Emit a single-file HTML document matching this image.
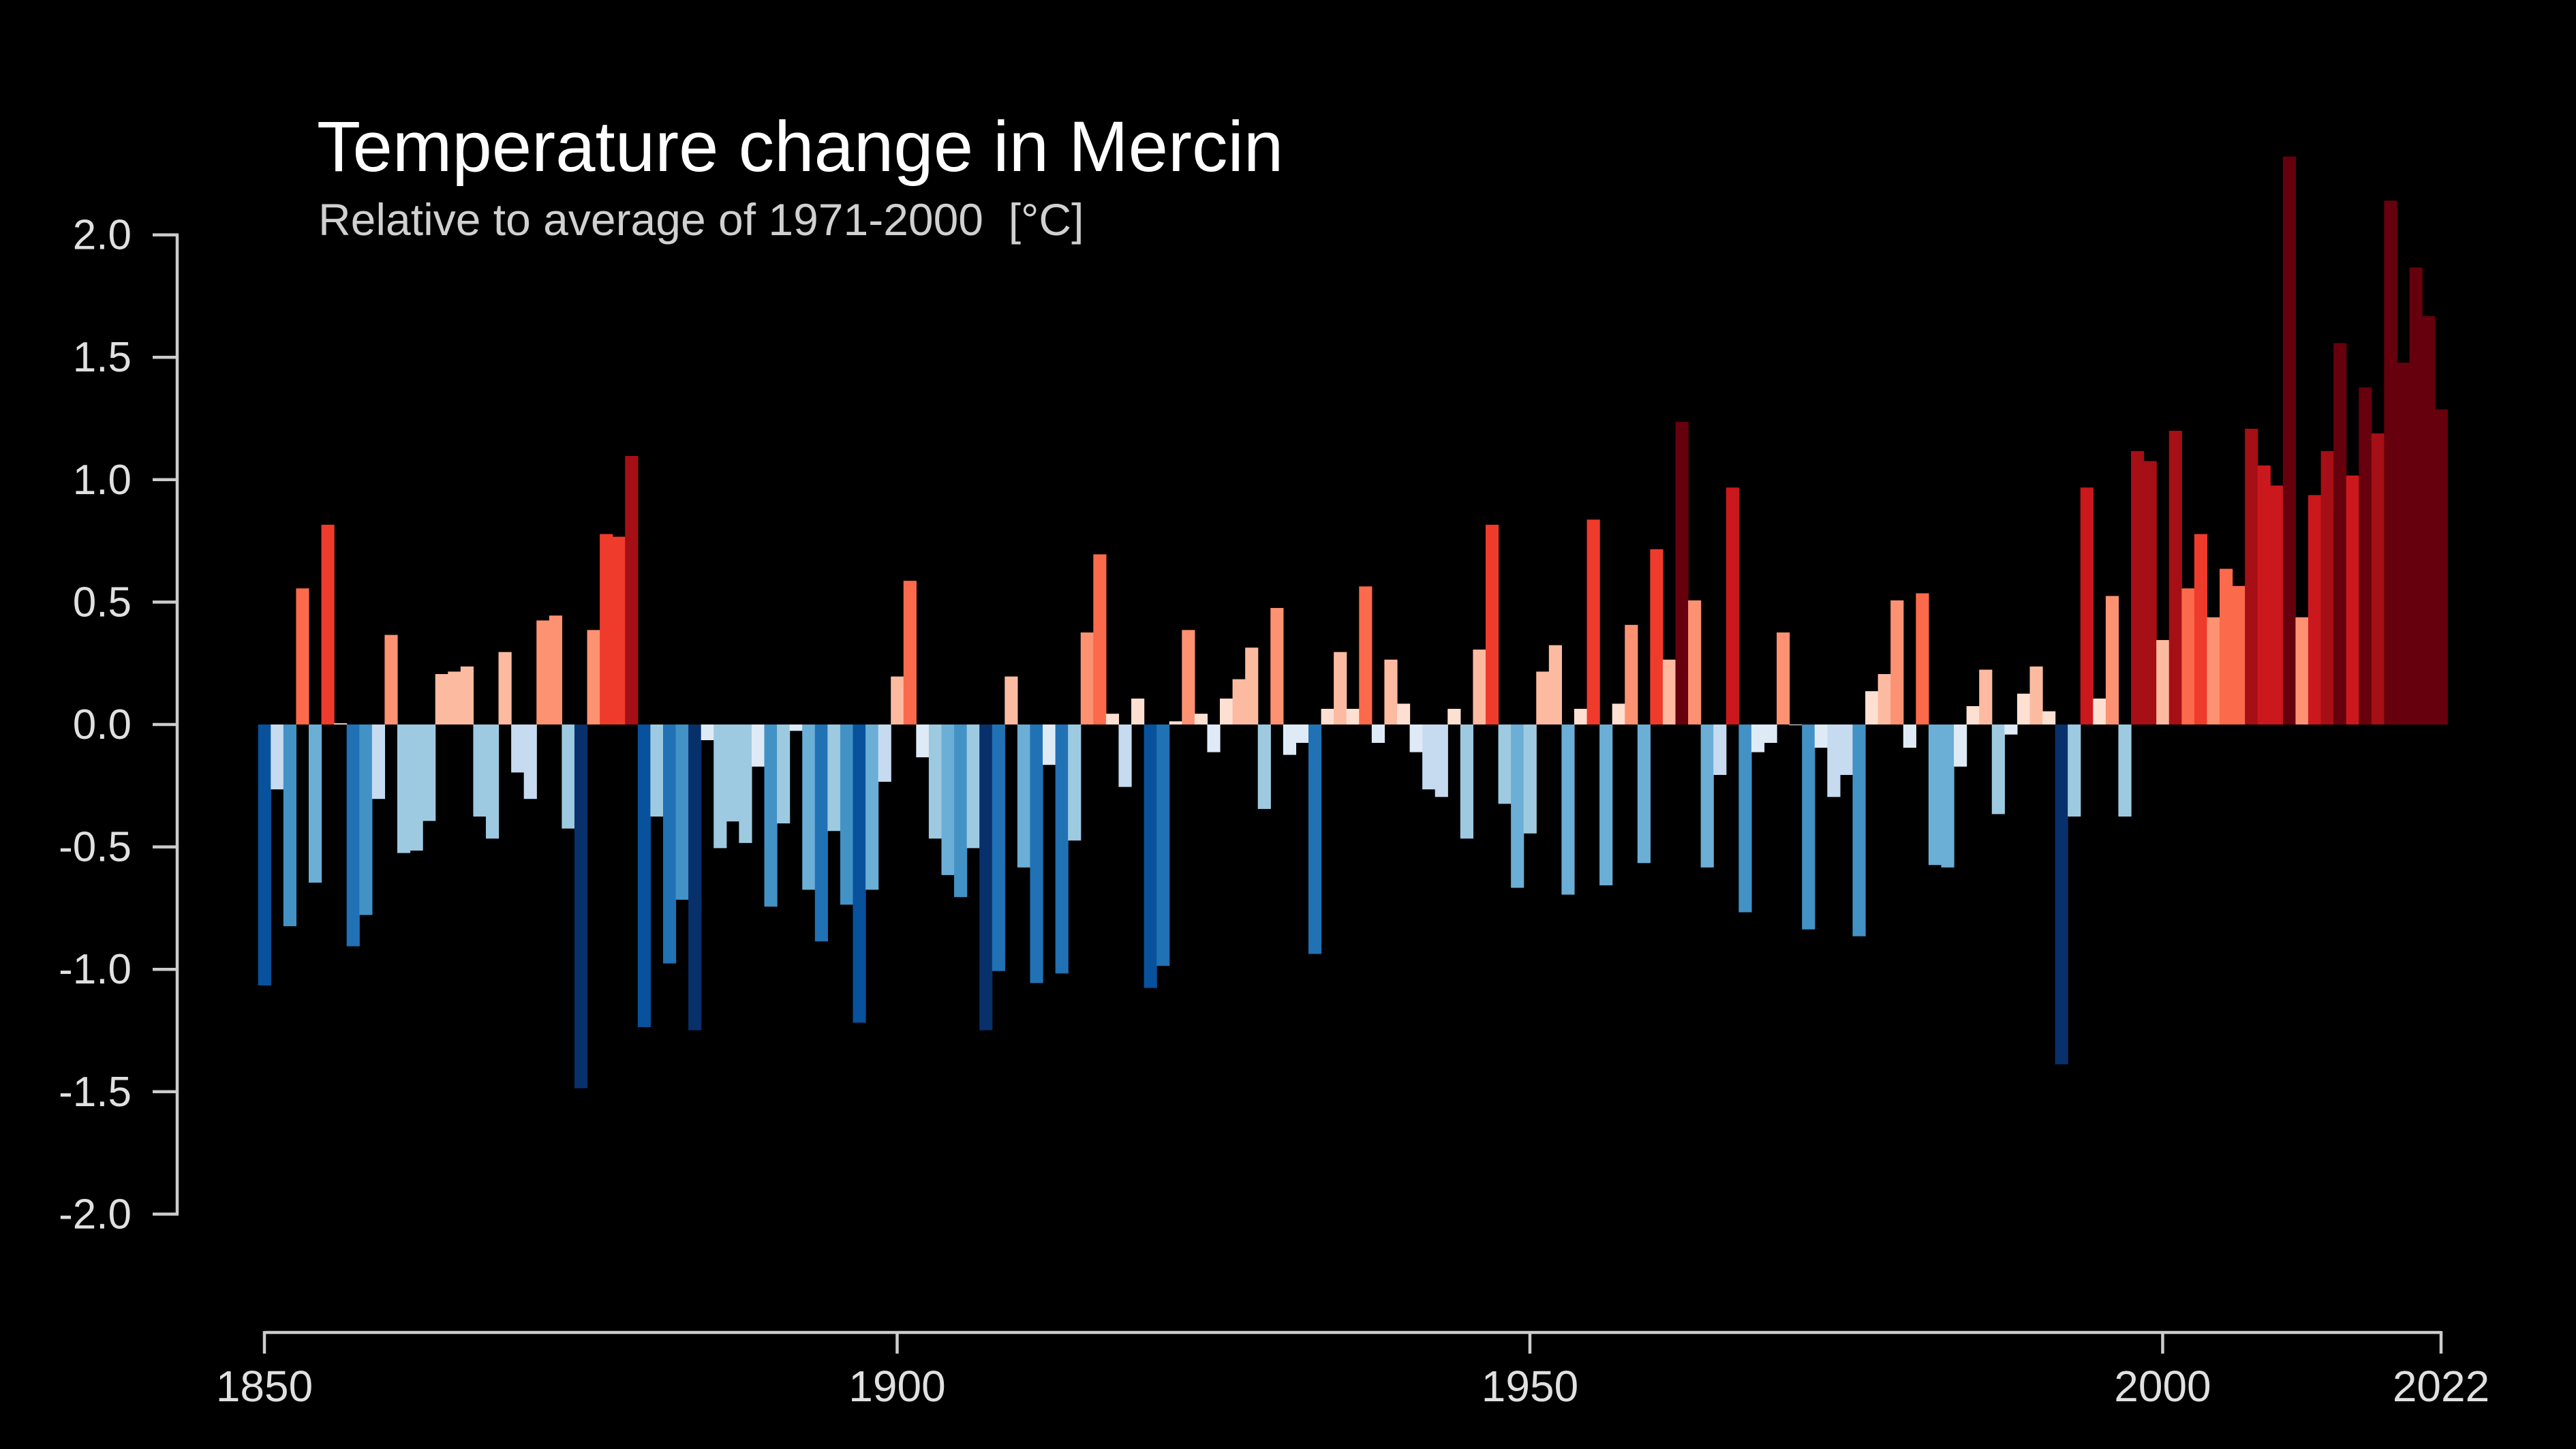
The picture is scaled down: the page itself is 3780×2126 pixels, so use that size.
<!DOCTYPE html>
<html><head><meta charset="utf-8"><title>Temperature change in Mercin</title>
<style>
html,body{margin:0;padding:0;background:#000;}
svg{display:block;font-family:"Liberation Sans",Arial,sans-serif;}
</style></head>
<body>
<svg id="chart" width="3780" height="2126" viewBox="0 0 3780 2126" xmlns="http://www.w3.org/2000/svg">
<rect width="3780" height="2126" fill="#000"/>
<text x="465" y="251" font-size="105" fill="#ffffff">Temperature change in Mercin</text>
<text x="467" y="345" font-size="66" fill="#d0d0d0">Relative to average of 1971-2000 &#160;[°C]</text>
<g id="bars"></g>
<g id="yaxis"></g>
<g id="xaxis"></g>
</svg>
<script>
const startYear = 1850;
const anomalies = [
-1.066,-0.265,-0.824,0.556,-0.646,0.816,0.005,-0.906,-0.778,-0.304,
0.366,-0.525,-0.515,-0.394,0.206,0.216,0.237,-0.376,-0.466,0.296,
-0.196,-0.304,0.425,0.445,-0.425,-1.486,0.386,0.778,0.767,1.097,
-1.236,-0.376,-0.976,-0.716,-1.249,-0.064,-0.505,-0.396,-0.484,-0.172,
-0.744,-0.404,-0.026,-0.675,-0.886,-0.435,-0.736,-1.218,-0.675,-0.234,
0.196,0.587,-0.134,-0.466,-0.615,-0.705,-0.505,-1.249,-1.007,0.196,
-0.584,-1.056,-0.165,-1.017,-0.474,0.376,0.695,0.044,-0.255,0.106,
-1.076,-0.986,0.013,0.386,0.044,-0.113,0.106,0.185,0.314,-0.345,
0.476,-0.124,-0.075,-0.937,0.064,0.296,0.064,0.564,-0.075,0.265,
0.085,-0.113,-0.265,-0.296,0.064,-0.466,0.306,0.816,-0.324,-0.667,
-0.445,0.216,0.324,-0.695,0.064,0.837,-0.657,0.085,0.407,-0.566,
0.716,0.265,1.236,0.507,-0.584,-0.206,0.968,-0.767,-0.113,-0.075,
0.376,-0.003,-0.837,-0.095,-0.296,-0.206,-0.865,0.136,0.206,0.507,
-0.095,0.536,-0.574,-0.584,-0.172,0.075,0.224,-0.366,-0.041,0.126,
0.237,0.054,-1.388,-0.376,0.968,0.106,0.525,-0.376,1.117,1.076,
0.345,1.200,0.556,0.778,0.438,0.636,0.566,1.208,1.058,0.976,
2.320,0.438,0.937,1.117,1.558,1.017,1.377,1.189,2.140,1.478,
1.867,1.668,1.287];
const yTicks = [2.0,1.5,1.0,0.5,0.0,-0.5,-1.0,-1.5,-2.0];
const yTickLabels = ["2.0","1.5","1.0","0.5","0.0","-0.5","-1.0","-1.5","-2.0"];
const xTicks = [1850,1900,1950,2000,2022];
const xTickLabels = ["1850","1900","1950","2000","2022"];

const NS = "http://www.w3.org/2000/svg";
const x0 = 388, x1 = 3582, y0 = 1063, unit = 359.2;
const endYear = startYear + anomalies.length - 1;
const xs = y => x0 + (y - startYear) * (x1 - x0) / (endYear - startYear);
const ys = v => y0 - v * unit;
const bw = (x1 - x0) / (endYear - startYear);

function color(v){
  if (v >= 0){
    if (v < 0.15) return "#fee0d2";
    if (v < 0.355) return "#fcbba1";
    if (v < 0.53) return "#fc9272";
    if (v < 0.70) return "#fb6a4a";
    if (v < 0.90) return "#ef3b2c";
    if (v < 1.07) return "#cb181d";
    if (v < 1.22) return "#a50f15";
    return "#67000d";
  } else {
    if (v > -0.18) return "#deebf7";
    if (v > -0.32) return "#c6dbef";
    if (v > -0.55) return "#9ecae1";
    if (v > -0.70) return "#6baed6";
    if (v > -0.87) return "#4292c6";
    if (v > -1.06) return "#2171b5";
    if (v > -1.24) return "#08519c";
    return "#08306b";
  }
}
function mk(tag, attrs, parent){
  const el = document.createElementNS(NS, tag);
  for (const k in attrs) el.setAttribute(k, attrs[k]);
  parent.appendChild(el);
  return el;
}
const gb = document.getElementById("bars");
anomalies.forEach((v, i) => {
  const yr = startYear + i;
  const top = Math.min(ys(v), ys(0));
  const h = Math.max(Math.abs(ys(v) - ys(0)), 1);
  const r = mk("rect", {x: xs(yr) - bw/2, y: top, width: bw + 0.6, height: h, fill: color(v)}, gb);
  
  
});
const gy = document.getElementById("yaxis");
const yl = mk("line", {x1: 260, x2: 260, y1: ys(2), y2: ys(-2), stroke: "#cccccc", "stroke-width": 4.5}, gy);


yTicks.forEach((t, i) => {
  const tk = mk("line", {x1: 224, x2: 262, y1: ys(t), y2: ys(t), stroke: "#cccccc", "stroke-width": 4.5}, gy);
  
  
  const tx = mk("text", {x: 193, y: ys(t) + 21, "font-size": 62, fill: "#e0e0e0", "text-anchor": "end"}, gy);
  tx.textContent = yTickLabels[i];
  
  
});
const gx = document.getElementById("xaxis");
const xl = mk("line", {x1: x0, x2: x1, y1: 1955, y2: 1955, stroke: "#cccccc", "stroke-width": 4.5}, gx);


xTicks.forEach((t, i) => {
  const tk = mk("line", {x1: xs(t), x2: xs(t), y1: 1953, y2: 1986, stroke: "#cccccc", "stroke-width": 4.5}, gx);
  
  
  const tx = mk("text", {x: xs(t), y: 2056, "font-size": 64, fill: "#e0e0e0", "text-anchor": "middle"}, gx);
  tx.textContent = xTickLabels[i];
  
  
});
</script>
</body></html>
